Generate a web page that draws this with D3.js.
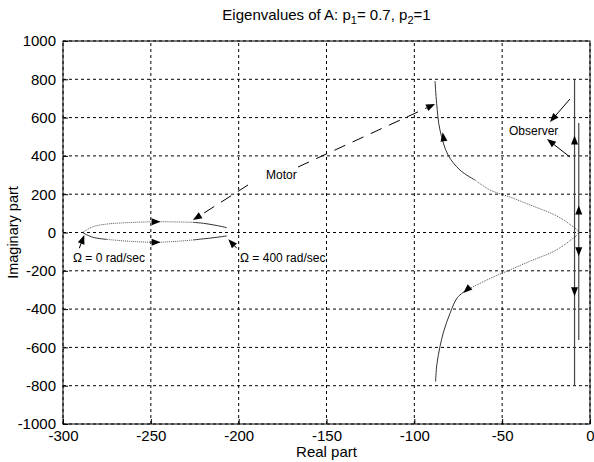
<!DOCTYPE html>
<html>
<head>
<meta charset="utf-8">
<script src="https://cdn.jsdelivr.net/npm/d3@7"></script>
<style>
  html, body { margin: 0; padding: 0; background: #fff; }
  svg text { font-family: "Liberation Sans", Arial, sans-serif; fill: #000; }
</style>
</head>
<body>
<svg id="chart" width="594" height="462"></svg>
<script>
// Axis ranges and tick values
const xTicks = [-300, -250, -200, -150, -100, -50, 0];
const yTicks = [-1000, -800, -600, -400, -200, 0, 200, 400, 600, 800, 1000];

// Motor eigenvalue loop (Ω = 0 ... 400 rad/sec), [real, imag]
const loopUpperDotted = [[-288.6, 2], [-283, 30], [-275, 44], [-262, 52], [-247, 56], [-235, 55], [-226, 53]];
const loopUpperSolid = [[-226, 53], [-220, 48], [-214, 39], [-210, 32], [-206.8, 25]];
const loopLowerSolid = [[-288.6, -2], [-283, -25], [-275, -36]];
const loopLowerDotted = [[-275, -36], [-262, -46], [-247, -51], [-235, -46], [-226, -39]];
const loopLowerSolid2 = [[-226, -39], [-220, -33], [-214, -27], [-210, -22], [-206.8, -18]];

// Motor / observer interaction branch, [real, imag]
const bellUpperSolid = [[-88.2, 790], [-87.3, 675], [-85.4, 535], [-80.8, 405], [-74, 326], [-65.5, 274]];
const bellDotted = [[-65.5, 274], [-56.9, 222], [-45.5, 185], [-34.2, 144], [-19.9, 91], [-11.4, 42], [-6.6, 0],
                    [-11.4, -42], [-19.9, -95], [-34.2, -150], [-45.5, -195], [-56.9, -240], [-64, -272], [-70.2, -300]];
const bellLowerSolid = [[-70.2, -300], [-75.5, -340], [-79.7, -422], [-83.4, -520], [-85.4, -596], [-87.2, -690], [-87.9, -779]];

// Observer eigenvalues, [real, imag top, imag bottom]
const obsLines = [[-8.8, 800, -800], [-6.4, 572, -561]];

// Direction arrows on the loci: [real, imag, dx, dy] (dy in data sense: + is up)
const locusArrows = [
  [-247, 56, 1, 0], [-247, -51, 1, 0],
  [-83.5, 500, -0.15, 1], [-70.2, -300, -1, -0.9],
  [-8.8, 483, 0, 1], [-8.8, -310, 0, -1],
  [-6.4, 117, 0, 1], [-6.4, -100, 0, -1]
];

// Labels: [text, real, imag]
const labels = [
  ["Motor", -184.4, 279],
  ["Observer", -46.1, 509],
  ["Ω = 0 rad/sec", -294.3, -154],
  ["Ω = 400 rad/sec", -199.2, -154]
];

// Pointer arrows: [fromReal, fromImag, toReal, toImag, dashed]
const pointers = [
  [-166.2, 342, -88.2, 671, true],
  [-194.7, 248, -226, 65, true],
  [-11.4, 697, -22.8, 577, false],
  [-11.4, 394, -24.5, 488, false],
  [-290.7, -82, -287.9, -13, false],
  [-201.1, -82, -205.9, -35, false]
];

const svg = d3.select("#chart");
const margin = { left: 63, right: 4, top: 41, bottom: 38 };
const W = 594, H = 462;
const x = d3.scaleLinear().domain([-300, 0]).range([margin.left, W - margin.right]);
const y = d3.scaleLinear().domain([-1000, 1000]).range([H - margin.bottom, margin.top]);

const fs = 15;

// Grid
const grid = svg.append("g");
grid.selectAll("line.gx").data(xTicks).enter().append("line")
  .attr("x1", d => x(d)).attr("x2", d => x(d))
  .attr("y1", y(-1000)).attr("y2", y(1000))
  .attr("stroke", "#000").attr("stroke-width", 1).attr("stroke-dasharray", "3,3");
grid.selectAll("line.gy").data(yTicks).enter().append("line")
  .attr("x1", x(-300)).attr("x2", x(0))
  .attr("y1", d => y(d)).attr("y2", d => y(d))
  .attr("stroke", "#000").attr("stroke-width", 1).attr("stroke-dasharray", "3,3");

// Axes with inward ticks
const fmt = d => String(d);
const xAxis = d3.axisBottom(x).tickValues(xTicks).tickSize(-5).tickPadding(8).tickFormat(fmt);
const yAxis = d3.axisLeft(y).tickValues(yTicks).tickSize(-5).tickPadding(7).tickFormat(fmt);
const gx = svg.append("g").attr("transform", `translate(0,${y(-1000)})`).call(xAxis);
const gy = svg.append("g").attr("transform", `translate(${x(-300)},0)`).call(yAxis);
[gx, gy].forEach(g => {
  g.select(".domain").remove();
  g.selectAll("line").attr("stroke", "#000");
  g.selectAll("text").attr("font-size", fs).attr("font-family", "Liberation Sans, Arial, sans-serif").attr("fill", "#000");
});
gx.selectAll("text").attr("dy", "0.6em");

// Box
svg.append("rect")
  .attr("x", x(-300)).attr("y", y(1000))
  .attr("width", x(0) - x(-300)).attr("height", y(-1000) - y(1000))
  .attr("fill", "none").attr("stroke", "#000").attr("stroke-width", 1);

// Locus lines
const line = d3.line().x(d => x(d[0])).y(d => y(d[1])).curve(d3.curveCatmullRom.alpha(0.5));
const drawPath = (pts, dotted) => svg.append("path").attr("d", line(pts))
  .attr("fill", "none").attr("stroke", dotted ? "#555" : "#333")
  .attr("stroke-width", 1)
  .attr("stroke-dasharray", dotted ? "1,1" : null);

drawPath(loopUpperDotted, true);
drawPath(loopUpperSolid, false);
drawPath(loopLowerSolid, false);
drawPath(loopLowerDotted, true);
drawPath(loopLowerSolid2, false);
drawPath(bellUpperSolid, false);
drawPath(bellDotted, true);
drawPath(bellLowerSolid, false);

svg.selectAll("line.obs").data(obsLines).enter().append("line")
  .attr("x1", d => x(d[0])).attr("x2", d => x(d[0]))
  .attr("y1", d => y(d[1])).attr("y2", d => y(d[2]))
  .attr("stroke", "#444").attr("stroke-width", 1.2);

// Filled arrowhead at (px,py) pointing along angle
function head(px, py, ang, len = 9, half = 3.5) {
  const c = Math.cos(ang), s = Math.sin(ang);
  const bx = px - c * len, by = py - s * len;
  const pts = [[px, py], [bx - s * half, by + c * half], [bx + s * half, by - c * half]];
  svg.append("path").attr("d", "M" + pts.map(p => p.join(",")).join("L") + "Z").attr("fill", "#000");
}

locusArrows.forEach(([r, i, dx, dy]) => {
  const ang = Math.atan2(-dy, dx);
  const c = Math.cos(ang), s = Math.sin(ang);
  head(x(r) + c * 4.5, y(i) + s * 4.5, ang);
});

pointers.forEach(([r0, i0, r1, i1, dashed]) => {
  const x0 = x(r0), y0 = y(i0), x1 = x(r1), y1 = y(i1);
  const ang = Math.atan2(y1 - y0, x1 - x0);
  svg.append("line")
    .attr("x1", x0).attr("y1", y0)
    .attr("x2", x1 - Math.cos(ang) * 6).attr("y2", y1 - Math.sin(ang) * 6)
    .attr("stroke", "#000").attr("stroke-width", 1)
    .attr("stroke-dasharray", dashed ? "12,8" : null);
  head(x1, y1, ang);
});

svg.selectAll("text.lbl").data(labels).enter().append("text")
  .attr("x", d => x(d[1])).attr("y", d => y(d[2]))
  .attr("font-size", 12)
  .text(d => d[0]);

// Title with subscripts
const title = svg.append("text").attr("x", (x(-300) + x(0)) / 2).attr("y", 20)
  .attr("text-anchor", "middle").attr("font-size", fs);
title.append("tspan").text("Eigenvalues of A: p");
title.append("tspan").attr("font-size", 11).attr("dy", 4).text("1");
title.append("tspan").attr("dy", -4).text("= 0.7,  p");
title.append("tspan").attr("font-size", 11).attr("dy", 4).text("2");
title.append("tspan").attr("dy", -4).text("=1");

// Axis labels
svg.append("text").attr("x", (x(-300) + x(0)) / 2).attr("y", 457)
  .attr("text-anchor", "middle").attr("font-size", fs).text("Real part");
svg.append("text").attr("transform", `translate(18,${(y(-1000) + y(1000)) / 2}) rotate(-90)`)
  .attr("text-anchor", "middle").attr("font-size", 14.5).text("Imaginary part");
</script>
</body>
</html>
